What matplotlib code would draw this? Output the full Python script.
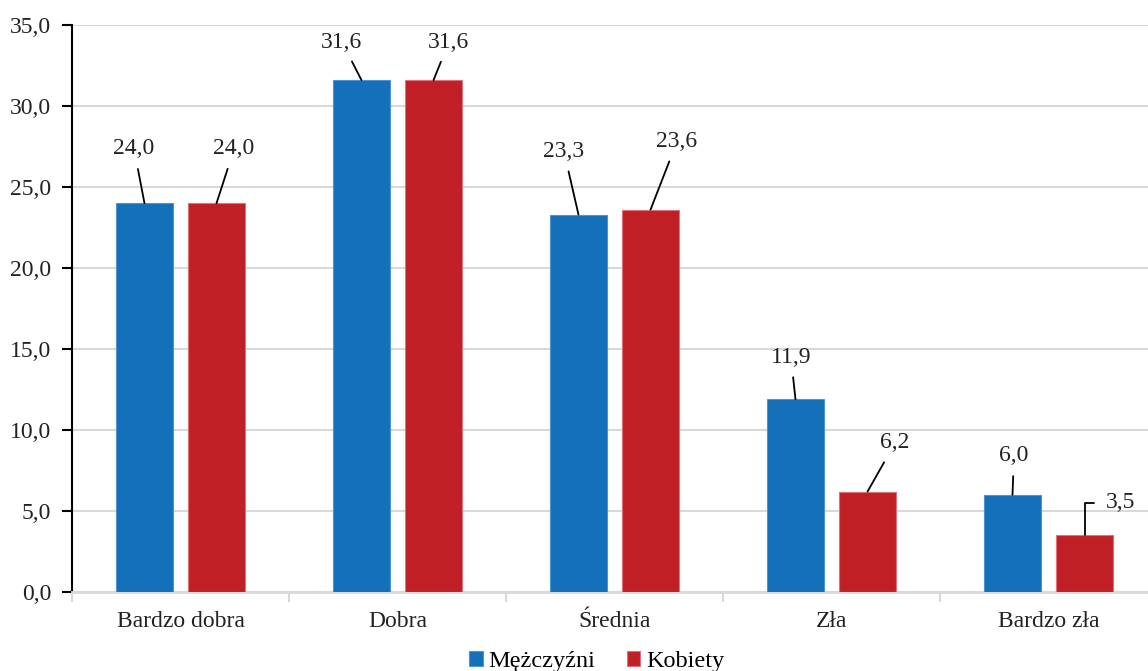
import numpy as np
import matplotlib.pyplot as plt
from matplotlib.ticker import FuncFormatter, FixedLocator

plt.rcParams['font.family'] = ['Liberation Serif', 'DejaVu Serif']

categories = ['Bardzo dobra', 'Dobra', 'Średnia', 'Zła', 'Bardzo zła']
men = [24.0, 31.6, 23.3, 11.9, 6.0]
women = [24.0, 31.6, 23.6, 6.2, 3.5]
series_names = ['Mężczyźni', 'Kobiety']

# label text positions (data coords) for the leader-line annotations
men_label_pos = [(-0.214, 27.35), (0.744, 33.95), (1.767, 27.2), (2.813, 14.5), (3.841, 8.4)]
women_label_pos = [(0.247, 27.35), (1.237, 33.95), (2.288, 27.8), (3.293, 9.2), (4.33, 5.5)]

blue = '#1470B8'
red = '#C01F26'

fig = plt.figure(figsize=(11.48, 6.71), dpi=100)
ax = fig.add_axes([72/1148, 1-592/671, 1085/1148, 567/671])

x = np.arange(len(categories))
w = 0.267
off = 0.166
bm = ax.bar(x - off, men, w, color=blue, edgecolor='#4f93d3', linewidth=0.8, zorder=3, label=series_names[0])
bw = ax.bar(x + off, women, w, color=red, edgecolor='#e0707a', linewidth=0.8, zorder=3, label=series_names[1])

fmt = lambda v: f'{v:.1f}'.replace('.', ',')

for i, v in enumerate(men):
    ax.annotate(fmt(v), xy=(x[i] - off, v), xytext=men_label_pos[i], textcoords='data',
                ha='center', va='center', fontsize=17, color='#222222',
                arrowprops=dict(arrowstyle='-', color='black', lw=1.3, shrinkA=5, shrinkB=0))
for i, v in enumerate(women):
    if i == len(women) - 1:
        ax.annotate(fmt(v), xy=(x[i] + off, v), xytext=women_label_pos[i], textcoords='data',
                    ha='center', va='center', fontsize=17, color='#222222',
                    arrowprops=dict(arrowstyle='-', color='black', lw=1.3, shrinkA=6, shrinkB=0,
                                    relpos=(0, 0.5), connectionstyle='angle,angleA=0,angleB=90,rad=0'))
    else:
        ax.annotate(fmt(v), xy=(x[i] + off, v), xytext=women_label_pos[i], textcoords='data',
                    ha='center', va='center', fontsize=17, color='#222222',
                    arrowprops=dict(arrowstyle='-', color='black', lw=1.3, shrinkA=5, shrinkB=0))

ax.set_xlim(-0.5, len(categories) - 0.5)
ax.set_ylim(0, 35)
ax.set_yticks(np.arange(0, 35.1, 5))
ax.yaxis.set_major_formatter(FuncFormatter(lambda v, p: fmt(v)))
ax.set_xticks(x)
ax.set_xticklabels(categories)
ax.xaxis.set_minor_locator(FixedLocator(np.arange(-0.5, len(categories), 1)))
ax.tick_params(axis='x', which='major', length=0, pad=14, labelsize=17, labelcolor='#222222')
ax.tick_params(axis='x', which='minor', length=7, width=1.5, color='#d9d9d9')
ax.tick_params(axis='y', length=7, width=1.5, pad=8, labelsize=17, labelcolor='#222222')

ax.grid(axis='y', color='#d9d9d9', lw=1.5, zorder=0)
ax.set_axisbelow(True)
for s in ['top', 'right']:
    ax.spines[s].set_visible(False)
ax.spines['left'].set_linewidth(1.5)
ax.spines['bottom'].set_color('#d9d9d9')
ax.spines['bottom'].set_linewidth(2)

fig.legend(handles=[bm, bw], loc='center', bbox_to_anchor=(0.52, 0.014), ncol=2, frameon=False,
           fontsize=17.5, handlelength=0.55, handleheight=0.55, handletextpad=0.25, columnspacing=1.3)

fig.savefig('out.png', dpi=100)
